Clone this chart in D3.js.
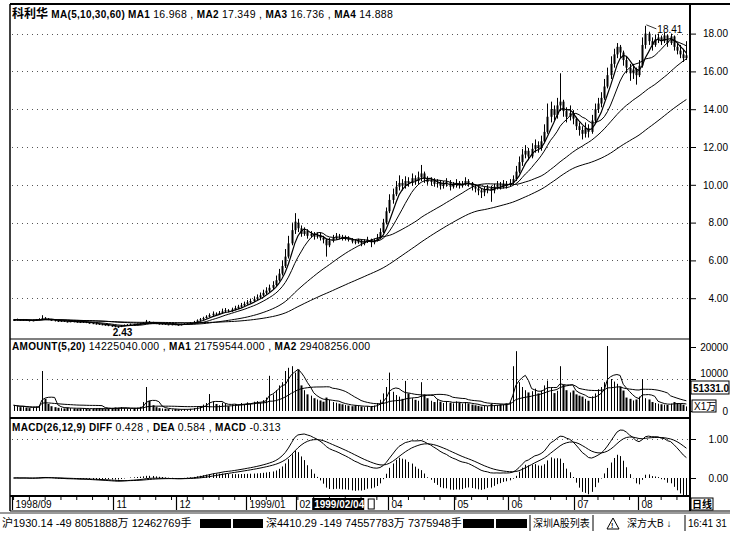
<!DOCTYPE html>
<html>
<head>
<meta charset="utf-8">
<script src="https://cdn.jsdelivr.net/npm/d3@7"></script>
<style>
  body { margin: 0; background: #fff; }
  svg { display: block; font-family: "Liberation Sans", Arial, "Noto Sans CJK SC", sans-serif; }
</style>
</head>
<body>
<svg width="730" height="535"></svg>
<script>
// daily prices, 1998/09 .. 1999/08
var openP = [
  2.83,2.85,2.87,2.82,2.86,2.84,2.80,2.83,2.86,2.90,
  2.96,2.92,2.86,2.84,2.80,2.78,2.80,2.77,2.75,2.78,
  2.76,2.74,2.72,2.75,2.71,2.68,2.66,2.64,2.62,2.60,
  2.58,2.55,2.52,2.50,2.48,2.55,2.58,2.60,2.62,2.60,
  2.63,2.65,2.70,2.76,2.72,2.70,2.66,2.64,2.65,2.62,
  2.60,2.62,2.60,2.58,2.62,2.65,2.68,2.70,2.75,2.82,
  2.88,2.95,3.02,3.10,3.18,3.15,3.22,3.30,3.36,3.32,
  3.40,3.48,3.55,3.62,3.70,3.78,3.85,3.95,4.05,4.15,
  4.28,4.40,4.55,4.70,4.95,5.30,5.70,6.20,6.90,7.60,
  8.00,7.70,7.40,7.55,7.30,7.40,7.25,7.35,7.20,7.10,
  6.80,7.05,7.20,7.30,7.25,7.15,7.20,7.10,7.00,6.95,
  7.05,6.90,7.00,7.10,6.95,7.05,7.20,7.50,8.00,8.60,
  9.20,9.50,9.90,10.10,9.95,10.20,10.10,10.35,10.20,10.40,
  10.60,10.30,10.15,10.25,10.05,10.10,9.95,10.05,10.15,9.90,
  10.00,10.10,9.95,10.05,10.20,10.10,9.90,9.80,9.70,9.60,
  9.75,9.85,9.70,9.90,10.00,9.95,10.05,10.00,10.10,10.30,
  10.70,11.20,11.60,11.80,11.50,11.90,12.10,11.95,12.30,12.80,
  13.60,14.00,13.70,14.20,14.40,13.90,13.60,13.80,13.50,13.10,
  12.90,12.70,13.00,12.80,13.40,14.00,14.30,14.60,15.20,15.80,
  16.40,16.90,17.30,17.00,16.60,16.20,15.90,16.10,15.80,16.30,
  17.40,18.00,17.60,17.40,17.70,17.80,17.60,17.90,17.50,17.85,
  17.30,17.10,16.90,16.70
];
var highP = [
  2.90,2.92,2.89,2.90,2.88,2.86,2.86,2.90,2.94,3.10,
  3.00,2.94,2.89,2.86,2.82,2.83,2.82,2.79,2.81,2.80,
  2.78,2.76,2.78,2.77,2.73,2.70,2.69,2.66,2.65,2.63,
  2.60,2.57,2.55,2.52,2.58,2.61,2.63,2.66,2.64,2.66,
  2.69,2.74,2.85,2.79,2.75,2.72,2.69,2.68,2.67,2.65,
  2.65,2.64,2.62,2.65,2.68,2.71,2.74,2.80,2.88,2.95,
  3.02,3.10,3.20,3.30,3.25,3.32,3.45,3.48,3.42,3.50,
  3.60,3.65,3.75,3.82,3.90,3.98,4.10,4.20,4.30,4.45,
  4.58,4.72,4.90,5.20,5.55,6.00,6.60,7.30,8.00,8.50,
  8.20,7.85,7.75,7.65,7.55,7.50,7.48,7.45,7.30,7.15,
  7.20,7.35,7.45,7.40,7.35,7.32,7.28,7.18,7.10,7.15,
  7.10,7.12,7.25,7.15,7.15,7.40,7.70,8.20,8.80,9.50,
  9.80,10.20,10.50,10.30,10.45,10.40,10.60,10.50,10.70,11.05,
  10.70,10.45,10.40,10.35,10.30,10.25,10.20,10.35,10.25,10.15,
  10.30,10.20,10.20,10.40,10.30,10.15,10.00,9.90,9.80,9.90,
  10.00,9.95,10.05,10.20,10.15,10.25,10.20,10.30,10.50,11.00,
  11.50,11.90,12.10,11.95,12.20,12.40,12.30,12.60,13.20,14.30,
  14.40,14.20,14.60,15.90,14.50,14.10,14.20,13.95,13.60,13.30,
  13.10,13.30,13.20,13.70,14.30,14.60,14.90,15.60,16.20,16.80,
  17.20,17.50,17.40,17.10,16.80,16.40,16.40,16.20,16.60,17.80,
  18.41,18.10,17.80,17.95,18.00,17.90,18.05,17.95,18.00,17.90,
  17.50,17.40,17.20,17.60
];
var lowP = [
  2.80,2.82,2.80,2.80,2.81,2.77,2.78,2.81,2.84,2.88,
  2.88,2.84,2.81,2.77,2.75,2.76,2.74,2.72,2.73,2.73,
  2.71,2.69,2.70,2.68,2.65,2.63,2.61,2.59,2.57,2.55,
  2.52,2.49,2.46,2.43,2.47,2.53,2.56,2.58,2.57,2.58,
  2.60,2.63,2.68,2.69,2.67,2.63,2.61,2.61,2.59,2.57,
  2.57,2.58,2.55,2.56,2.60,2.63,2.65,2.68,2.73,2.79,
  2.85,2.92,2.98,3.06,3.08,3.12,3.18,3.26,3.25,3.28,
  3.36,3.42,3.50,3.58,3.65,3.72,3.80,3.90,4.00,4.10,
  4.20,4.32,4.48,4.62,4.88,5.20,5.60,6.10,6.80,7.40,
  7.50,7.25,7.30,7.15,7.20,7.10,7.15,7.05,6.90,6.20,
  6.70,6.95,7.10,7.12,7.05,7.05,7.00,6.90,6.85,6.88,
  6.75,6.80,6.92,6.70,6.85,7.00,7.15,7.45,7.90,8.50,
  9.00,9.40,9.70,9.70,9.80,9.90,9.95,10.00,10.05,10.20,
  10.10,10.00,9.95,9.90,9.85,9.75,9.80,9.90,9.70,9.80,
  9.85,9.80,9.85,9.95,9.90,9.70,9.60,9.45,9.30,9.40,
  9.55,9.10,9.55,9.75,9.75,9.80,9.80,9.90,10.00,10.20,
  10.60,11.00,11.40,11.30,11.40,11.70,11.70,11.80,12.20,12.70,
  13.30,13.40,13.50,13.90,13.60,13.30,13.40,13.20,12.90,12.60,
  12.40,12.50,12.50,12.70,13.30,13.80,14.10,14.50,15.10,15.60,
  16.20,16.70,16.70,16.30,15.90,15.50,15.60,15.30,15.70,16.20,
  17.20,17.40,17.10,17.30,17.50,17.40,17.50,17.30,17.40,17.10,
  16.90,16.70,16.50,16.60
];
var closeP = [
  2.85,2.88,2.82,2.86,2.84,2.80,2.83,2.87,2.90,2.95,
  2.92,2.86,2.84,2.80,2.78,2.80,2.77,2.75,2.78,2.76,
  2.74,2.72,2.75,2.71,2.68,2.66,2.64,2.62,2.60,2.58,
  2.55,2.52,2.50,2.48,2.55,2.58,2.60,2.62,2.60,2.63,
  2.65,2.70,2.76,2.72,2.70,2.66,2.64,2.65,2.62,2.60,
  2.62,2.60,2.58,2.62,2.65,2.68,2.70,2.75,2.82,2.88,
  2.95,3.02,3.10,3.18,3.15,3.22,3.30,3.36,3.32,3.40,
  3.48,3.55,3.62,3.70,3.78,3.85,3.95,4.05,4.15,4.28,
  4.40,4.55,4.70,4.95,5.30,5.70,6.20,6.90,7.60,8.05,
  7.70,7.40,7.55,7.30,7.40,7.25,7.35,7.20,7.10,6.80,
  7.05,7.20,7.30,7.25,7.15,7.20,7.10,7.00,6.95,7.05,
  6.90,7.00,7.10,6.95,7.05,7.20,7.50,8.00,8.60,9.20,
  9.50,9.90,10.10,9.95,10.20,10.10,10.35,10.20,10.40,10.60,
  10.30,10.15,10.25,10.05,10.10,9.95,10.05,10.15,9.90,10.00,
  10.10,9.95,10.05,10.20,10.10,9.90,9.80,9.70,9.60,9.75,
  9.85,9.70,9.90,10.00,9.95,10.05,10.00,10.10,10.30,10.70,
  11.20,11.60,11.80,11.50,11.90,12.10,11.95,12.30,12.80,13.60,
  14.00,13.70,14.20,14.40,13.90,13.60,13.80,13.50,13.10,12.90,
  12.70,13.00,12.80,13.40,14.00,14.30,14.60,15.20,15.80,16.40,
  16.90,17.30,17.00,16.60,16.20,15.90,16.10,15.80,16.30,17.40,
  18.00,17.60,17.40,17.70,17.80,17.60,17.90,17.50,17.85,17.30,
  17.10,16.90,16.70,16.85
];
// daily turnover, unit 10k yuan
var amount = [
  1800,1500,1200,1400,1100,900,1000,1300,1600,12500,
  3800,2200,1500,1200,1000,900,800,1100,900,800,
  700,800,900,700,600,700,800,900,700,600,
  800,900,1100,1000,1200,900,800,700,900,1000,
  1300,2800,7500,3200,1800,1200,900,800,700,600,
  500,600,500,400,600,500,700,900,1200,1500,
  2000,2500,5300,3000,2200,1800,2600,2400,1500,2000,
  2200,1800,2500,2100,2700,2300,2900,3100,2600,3400,
  4200,11000,5200,6500,8000,9000,12500,13500,14000,12000,
  13000,8000,6500,5200,4800,4000,3600,3300,2900,4200,
  3500,2800,2600,2300,2100,1900,1700,1500,1800,1600,
  1400,1200,1500,1300,1700,2500,3500,5500,7500,12000,
  6000,5000,4500,3800,9400,5500,4000,3500,3200,9000,
  5200,4000,3200,2800,3600,2900,2500,3100,2600,2400,
  3000,2600,2300,2800,2400,2000,1800,1600,1400,1700,
  1500,2200,1600,1800,2100,2000,2400,3000,14000,18700,
  9000,7500,6500,5800,6200,7000,5500,6400,8000,9500,
  7200,5600,6300,14000,8200,6500,5800,6400,5200,4800,
  4500,3800,3200,4600,5500,6800,7500,9000,20300,10000,
  9200,8500,7600,6400,4200,3800,3300,3600,4500,10000,
  4000,3600,2800,2500,2300,2100,2000,1900,2300,2800,
  2500,2200,2000,1422
];

var priceTicks = [4, 6, 8, 10, 12, 14, 16, 18];
var volTicks = [0, 10000, 20000];
var macdTicks = [0, 1];
var monthLabels = ["1998/09", "11", "12", "1999/01", "02", "04", "05", "06", "07", "08"];
var monthIdx = [0, 32, 52, 74, 90, 119, 140, 157, 178, 198];

var mainTitle = "科利华";
var mainLegend = [["MA(5,10,30,60)", ""], ["MA1", "16.968"], ["MA2", "17.349"], ["MA3", "16.736"], ["MA4", "14.888"]];
var volLegend = [["AMOUNT(5,20)", "14225040.000"], ["MA1", "21759544.000"], ["MA2", "29408256.000"]];
var macdLegend = [["MACD(26,12,9)", ""], ["DIFF", "0.428"], ["DEA", "0.584"], ["MACD", "-0.313"]];
var cursorDate = "1999/02/04", cursorIdx = 92;
var cursorValue = "51331.0", volUnit = "X1万", periodName = "日线";
var statusSh = "沪1930.14 -49 8051888万 12462769手";
var statusSz = "深4410.29 -149 74557783万 7375948手";
var statusList = "深圳A股列表", statusStock = "深方大B ↓", statusTime = "16:41 31";

var N = closeP.length;

function ma(arr, n) {
  return arr.map(function(d, i) { return d3.mean(arr.slice(Math.max(0, i - n + 1), i + 1)); });
}
function ema(arr, n) {
  var k = 2 / (n + 1), prev = arr[0];
  return arr.map(function(v, i) { prev = i === 0 ? v : prev + k * (v - prev); return prev; });
}

var svg = d3.select("svg");
var X0 = 12, X1 = 688, AX = 690;
var xc = d3.scaleLinear().domain([-0.5, N - 0.5]).range([X0, X1]);
var yP = d3.scaleLinear().domain([2, 18]).range([336, 33.6]);
var yV = d3.scaleLinear().domain([0, 20000]).range([411, 347]);
var yM = d3.scaleLinear().domain([0, 1]).range([478, 439]);
var idx = d3.range(N);

// frame
function hline(x1, x2, y, w) {
  svg.append("line").attr("x1", x1).attr("x2", x2).attr("y1", y).attr("y2", y)
    .attr("stroke", "#000").attr("stroke-width", w);
}
hline(10, 730, 4, 2);
hline(10, AX, 339, 1.2);
hline(10, AX, 418, 2);
hline(10, AX, 496, 2);
hline(10, 730, 511, 1.2);
hline(0, 730, 513, 0.8);
svg.append("line").attr("x1", 10).attr("x2", 10).attr("y1", 4).attr("y2", 511).attr("stroke", "#000").attr("stroke-width", 1.5);
svg.append("line").attr("x1", AX).attr("x2", AX).attr("y1", 4).attr("y2", 511).attr("stroke", "#000").attr("stroke-width", 2);

// dotted grid
function grid(ticks, scale) {
  svg.append("g").selectAll("line").data(ticks).join("line")
    .attr("x1", X0).attr("x2", AX - 2)
    .attr("y1", function(d) { return Math.round(scale(d)) + 0.5; })
    .attr("y2", function(d) { return Math.round(scale(d)) + 0.5; })
    .attr("stroke", "#555").attr("stroke-dasharray", "1,4");
}
grid(priceTicks, yP);
grid([10000], yV);
grid([1], yM);

// right axes
function rightAxis(scale, ticks, fmt) {
  var g = svg.append("g").attr("transform", "translate(" + AX + ",0)")
    .call(d3.axisRight(scale).tickValues(ticks).tickFormat(fmt).tickSize(6));
  g.select(".domain").remove();
  g.attr("font-family", null).attr("font-size", 10);
  g.selectAll("line").attr("stroke", "#000");
  g.selectAll("text").attr("text-anchor", "end").attr("x", 38).attr("fill", "#000");
  return g;
}
rightAxis(yP, priceTicks, d3.format(".2f"));
var va = rightAxis(yV, volTicks, d3.format("d"));
// the cursor readout box sits on the 10000 label; lift that label clear of it
va.selectAll("text").filter(function(d) { return d === 10000; }).attr("dy", "-0.25em");
rightAxis(yM, macdTicks, d3.format(".2f"));

// legends
function legend(y, items, title) {
  var t = svg.append("text").attr("x", 12).attr("y", y).attr("font-size", 10.5)
    .attr("letter-spacing", 0.3).attr("fill", "#000");
  if (title) t.append("tspan").attr("font-size", 12).attr("font-weight", "bold").attr("letter-spacing", 0).text(title + " ");
  items.forEach(function(d, i) {
    t.append("tspan").attr("font-weight", "bold").attr("font-size", 10).text(d[0] + " ");
    if (d[1]) t.append("tspan").text(d[1] + (i < items.length - 1 ? " , " : ""));
  });
}
legend(18, mainLegend, mainTitle);
legend(350, volLegend, null);
legend(431, macdLegend, null);

// candles
var cg = svg.append("g");
cg.selectAll("line").data(idx).join("line")
  .attr("x1", function(i) { return Math.round(xc(i)) + 0.5; })
  .attr("x2", function(i) { return Math.round(xc(i)) + 0.5; })
  .attr("y1", function(i) { return yP(highP[i]); })
  .attr("y2", function(i) { return yP(lowP[i]); })
  .attr("stroke", "#000").attr("stroke-width", 1);
cg.selectAll("rect").data(idx).join("rect")
  .attr("x", function(i) { return Math.round(xc(i)) - 0.5; })
  .attr("width", 2)
  .attr("y", function(i) { return yP(Math.max(openP[i], closeP[i])); })
  .attr("height", function(i) { return Math.max(1, Math.abs(yP(openP[i]) - yP(closeP[i]))); })
  .attr("fill", "#000");

// moving averages
var lineP = d3.line().x(function(d, i) { return xc(i); }).y(function(d) { return yP(d); });
[5, 10, 30, 60].forEach(function(n) {
  svg.append("path").datum(ma(closeP, n)).attr("d", lineP)
    .attr("fill", "none").attr("stroke", "#000").attr("stroke-width", n === 5 ? 1.2 : 1);
});

// high / low marks
var hi = d3.maxIndex(highP), lo = d3.minIndex(lowP);
svg.append("line").attr("x1", xc(hi) + 1).attr("y1", yP(highP[hi]) - 1)
  .attr("x2", xc(hi) + 11).attr("y2", yP(highP[hi]) + 3).attr("stroke", "#000").attr("stroke-width", 0.8);
svg.append("text").attr("x", xc(hi) + 12).attr("y", yP(highP[hi]) + 7).attr("font-size", 10).text(d3.format(".2f")(highP[hi]));
svg.append("text").attr("x", xc(lo) - 5).attr("y", yP(lowP[lo]) + 8).attr("font-size", 10).attr("font-weight", "bold").text(d3.format(".2f")(lowP[lo]));

// volume
var vg = svg.append("g");
vg.selectAll("rect").data(idx).join("rect")
  .attr("x", function(i) { return Math.round(xc(i)) - (closeP[i] >= openP[i] ? 0 : 0.5); })
  .attr("width", function(i) { return closeP[i] >= openP[i] ? 1 : 2; })
  .attr("y", function(i) { return yV(amount[i]); })
  .attr("height", function(i) { return yV(0) - yV(amount[i]); })
  .attr("fill", "#000");
var lineV = d3.line().x(function(d, i) { return xc(i); }).y(function(d) { return yV(d); });
[5, 20].forEach(function(n) {
  svg.append("path").datum(ma(amount, n)).attr("d", lineV)
    .attr("fill", "none").attr("stroke", "#000").attr("stroke-width", 1);
});

// MACD
var e12 = ema(closeP, 12), e26 = ema(closeP, 26);
var diff = e12.map(function(v, i) { return v - e26[i]; });
var dea = ema(diff, 9);
var macd = diff.map(function(v, i) { return 2 * (v - dea[i]); });
svg.append("g").selectAll("line").data(idx).join("line")
  .attr("x1", function(i) { return Math.round(xc(i)) + 0.5; })
  .attr("x2", function(i) { return Math.round(xc(i)) + 0.5; })
  .attr("y1", yM(0))
  .attr("y2", function(i) { return yM(macd[i]); })
  .attr("stroke", "#000").attr("stroke-width", 1);
var lineM = d3.line().x(function(d, i) { return xc(i); }).y(function(d) { return yM(d); });
[diff, dea].forEach(function(s) {
  svg.append("path").datum(s).attr("d", lineM).attr("fill", "none").attr("stroke", "#000").attr("stroke-width", 1);
});

// date row
var dg = svg.append("g").attr("font-size", 10);
dg.selectAll("line.wk").data(d3.range(0, N, 5)).join("line")
  .attr("x1", function(i) { return xc(i); }).attr("x2", function(i) { return xc(i); })
  .attr("y1", 497).attr("y2", 500).attr("stroke", "#000");
monthIdx.forEach(function(i, k) {
  var x = Math.round(xc(i) - 1.5) + 0.5;
  dg.append("line").attr("x1", x).attr("x2", x).attr("y1", 497).attr("y2", 510).attr("stroke", "#000").attr("stroke-width", 1.2);
  dg.append("text").attr("x", x + 3).attr("y", 508).text(monthLabels[k]);
});
var cx = xc(cursorIdx) + 8;
dg.append("rect").attr("x", cx).attr("y", 498).attr("width", 52).attr("height", 12).attr("fill", "#000");
dg.append("text").attr("x", cx + 2).attr("y", 508).attr("fill", "#fff").attr("font-weight", "bold").text(cursorDate);
dg.append("rect").attr("x", cx + 56).attr("y", 499).attr("width", 6).attr("height", 10).attr("fill", "none").attr("stroke", "#000");

// right side boxes
svg.append("rect").attr("x", 691).attr("y", 381).attr("width", 38).attr("height", 13).attr("fill", "#fff").attr("stroke", "#000");
svg.append("text").attr("x", 693).attr("y", 392).attr("font-size", 10).attr("font-weight", "bold").text(cursorValue);
svg.append("rect").attr("x", 692).attr("y", 400).attr("width", 24).attr("height", 12).attr("fill", "#fff").attr("stroke", "#000");
svg.append("text").attr("x", 694).attr("y", 410).attr("font-size", 10).text(volUnit);
svg.append("rect").attr("x", 691).attr("y", 498).attr("width", 22).attr("height", 12).attr("fill", "#fff").attr("stroke", "#000");
svg.append("text").attr("x", 692).attr("y", 508).attr("font-size", 10).attr("font-weight", "bold").text(periodName);

// status bar
var sb = svg.append("g").attr("font-size", 11);
sb.append("text").attr("x", 2).attr("y", 527).text(statusSh);
[[200, 31], [233, 30], [463, 31], [496, 31]].forEach(function(r) {
  sb.append("rect").attr("x", r[0]).attr("y", 519).attr("width", r[1]).attr("height", 9).attr("fill", "#000");
});
sb.append("text").attr("x", 266).attr("y", 527).text(statusSz);
sb.append("line").attr("x1", 530).attr("x2", 530).attr("y1", 515).attr("y2", 531).attr("stroke", "#000");
sb.append("text").attr("x", 533).attr("y", 527).attr("font-size", 10).text(statusList);
sb.append("line").attr("x1", 593).attr("x2", 593).attr("y1", 515).attr("y2", 531).attr("stroke", "#000");
sb.append("path").attr("d", "M607,529 L613,518 L619,529 Z").attr("fill", "none").attr("stroke", "#000");
sb.append("text").attr("x", 611).attr("y", 528).attr("font-size", 7).attr("font-weight", "bold").text("!");
sb.append("text").attr("x", 627).attr("y", 527).attr("font-size", 10).text(statusStock);
sb.append("line").attr("x1", 685).attr("x2", 685).attr("y1", 515).attr("y2", 531).attr("stroke", "#000");
sb.append("text").attr("x", 688).attr("y", 527).attr("font-size", 10).text(statusTime);
</script>
</body>
</html>
